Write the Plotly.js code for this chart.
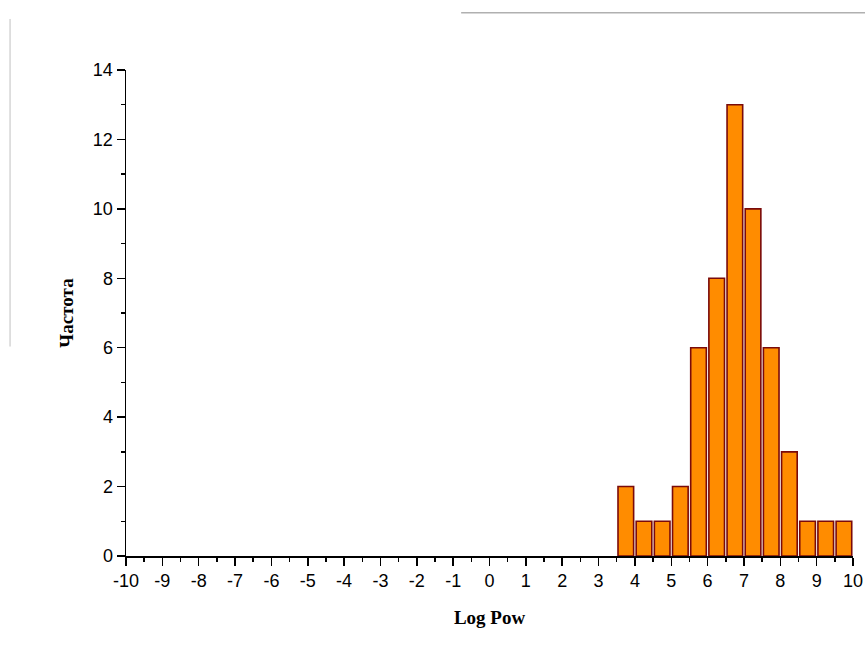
<!DOCTYPE html>
<html>
<head>
<meta charset="utf-8">
<script src="https://cdn.plot.ly/plotly-3.0.1.min.js"></script>
<style>html,body{margin:0;padding:0;background:#fff;}#chart{width:865px;height:666px;}</style>
</head>
<body>
<div id="chart"></div>
<script>
// Bin centers (bin width 0.5) and frequencies
const binCenters = [3.75, 4.25, 4.75, 5.25, 5.75, 6.25, 6.75, 7.25, 7.75, 8.25, 8.75, 9.25, 9.75];
const frequencies = [2, 1, 1, 2, 6, 8, 13, 10, 6, 3, 1, 1, 1];
const xTickVals = [-10,-9,-8,-7,-6,-5,-4,-3,-2,-1,0,1,2,3,4,5,6,7,8,9,10];
const yTickVals = [0,2,4,6,8,10,12,14];
const xTitle = 'Log Pow';
const yTitle = 'Частота';

const trace = {
  type: 'bar',
  x: binCenters,
  y: frequencies,
  width: 0.43,
  marker: {color: '#FF8C00', line: {color: '#7A0A0A', width: 1.6}},
  hoverinfo: 'x+y'
};

const tickFont = {family: 'Liberation Sans', size: 18, color: '#000'};
const titleFont = {family: 'Liberation Serif', size: 19, color: '#000', weight: 'bold'};

const layout = {
  width: 865, height: 666,
  margin: {l: 126, r: 12, t: 70, b: 110},
  paper_bgcolor: '#fff', plot_bgcolor: '#fff',
  showlegend: false,
  bargap: 0,
  xaxis: {
    range: [-10, 10], tickvals: xTickVals, ticktext: xTickVals.map(String),
    ticks: 'outside', ticklen: 8, tickwidth: 1.5, tickcolor: '#000',
    minor: {dtick: 0.5, tick0: 0, ticks: 'outside', ticklen: 4, tickwidth: 1.5, tickcolor: '#000'},
    showline: true, linecolor: '#000', linewidth: 1.5, mirror: false,
    showgrid: false, zeroline: false, tickfont: tickFont,
    title: {text: xTitle, font: titleFont, standoff: 20}
  },
  yaxis: {
    range: [0, 14], tickvals: yTickVals, ticktext: yTickVals.map(String),
    ticks: 'outside', ticklen: 8, tickwidth: 1.5, tickcolor: '#000',
    minor: {dtick: 1, tick0: 0, ticks: 'outside', ticklen: 4, tickwidth: 1.5, tickcolor: '#000'},
    showline: true, linecolor: '#000', linewidth: 1.5, mirror: false,
    showgrid: false, zeroline: false, tickfont: tickFont,
    title: {text: yTitle, font: titleFont, standoff: 14}
  },
  shapes: [
    {type: 'line', xref: 'paper', yref: 'paper', x0: 0.461, x1: 1.02, y0: 1.118, y1: 1.118, line: {color: '#b0b0b0', width: 1.5}},
    {type: 'line', xref: 'paper', yref: 'paper', x0: -0.1595, x1: -0.1595, y0: 0.431, y1: 1.105, line: {color: '#c0c0c0', width: 1}}
  ]
};

Plotly.newPlot('chart', [trace], layout, {displayModeBar: false, staticPlot: true});
</script>
</body>
</html>
